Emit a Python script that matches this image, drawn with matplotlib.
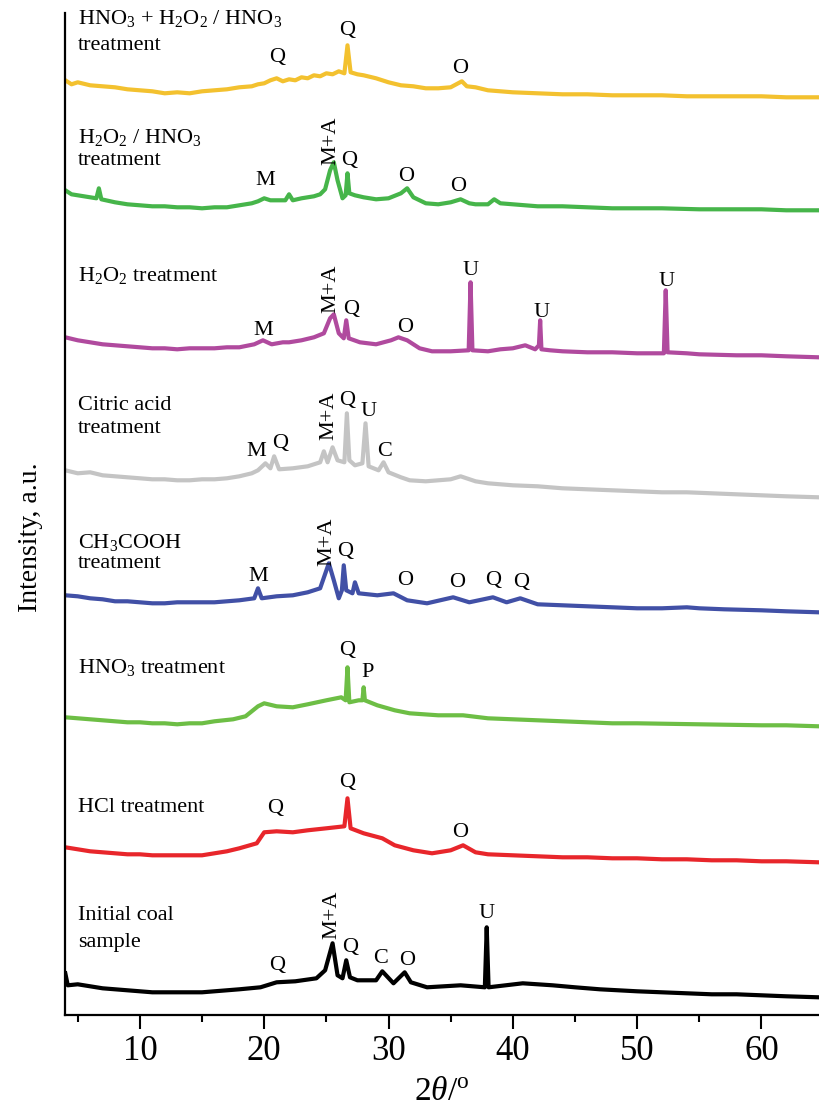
import matplotlib
matplotlib.use("Agg")
import matplotlib.pyplot as plt

plt.rcParams['font.family'] = ['Liberation Serif', 'DejaVu Serif']
plt.rcParams['mathtext.fontset'] = 'custom'
plt.rcParams['mathtext.rm'] = 'Liberation Serif'
plt.rcParams['mathtext.it'] = 'Liberation Serif:italic'
plt.rcParams['mathtext.bf'] = 'Liberation Serif:bold'

# ---------------- data (2theta, intensity a.u. incl. vertical offset) ----------------
x_mix = [4.0, 4.5, 5, 6, 7, 8, 9, 10, 11, 12, 13, 14, 15, 16, 17, 18, 19, 19.5, 20, 20.5, 21, 21.5, 22, 22.5, 23,
         23.5, 24, 24.5, 25, 25.5, 26, 26.45, 26.7, 26.95, 27.5, 28, 29, 30, 31, 32, 33, 34, 35, 35.6, 35.9, 36.3,
         37, 38, 40, 42, 44, 46, 48, 50, 52, 54, 56, 58, 60, 62, 64.6]
y_mix = [935, 931, 933, 930, 929, 928, 926, 925, 924, 922, 923, 922, 924, 925, 926, 928, 929, 931, 932, 935, 937,
         934, 936, 935, 938, 937, 940, 939, 942, 941, 944, 942, 970, 943, 941, 940, 937, 933, 930, 929, 927, 927,
         928, 932, 934, 929, 928, 925, 923, 922, 921, 921, 920, 920, 920, 919, 919, 919, 919, 918, 918]

x_h2o2_hno3 = [4.0, 4.5, 5, 6, 6.5, 6.7, 6.9, 8, 9, 10, 11, 12, 13, 14, 15, 16, 17, 18, 19, 19.5, 20, 20.5, 21,
               21.7, 22, 22.3, 23, 24, 24.5, 24.9, 25.3, 25.6, 25.9, 26.3, 26.55, 26.7, 26.85, 27.3, 28, 29, 30, 31,
               31.5, 32, 33, 34, 35, 35.8, 36.5, 37, 38, 38.5, 39, 40, 42, 44, 46, 48, 50, 52, 55, 58, 60, 62, 64.6]
y_h2o2_hno3 = [825, 821, 820, 818, 817, 827, 816, 813, 811, 810, 809, 809, 808, 808, 807, 808, 808, 810, 812, 814,
               817, 815, 815, 815, 821, 815, 817, 819, 821, 826, 845, 853, 835, 817, 820, 842, 822, 820, 818, 816,
               817, 822, 827, 818, 812, 811, 813, 816, 812, 811, 811, 816, 812, 811, 809, 809, 808, 807, 807, 807,
               806, 806, 806, 805, 805]

x_h2o2 = [4.0, 5, 6, 7, 8, 9, 10, 11, 12, 13, 14, 15, 16, 17, 18, 19.2, 19.9, 20.6, 21.5, 22, 23, 24, 24.8, 25.3,
          25.6, 26.0, 26.4, 26.6, 26.8, 27.7, 29, 30.2, 30.8, 31.5, 32.5, 33.5, 35, 36.45, 36.6, 36.75, 38, 39,
          40, 41, 41.8, 42.1, 42.2, 42.3, 43, 44, 46, 48, 50, 52.15, 52.3, 52.45, 54, 55, 58, 60, 62, 64.6]
y_h2o2 = [678, 675, 673, 671, 670, 669, 668, 667, 667, 666, 667, 667, 667, 668, 668, 671, 675, 671, 673, 673, 675,
          678, 682, 697, 701, 682, 677, 695, 677, 673, 671, 675, 678, 675, 667, 664, 664, 665, 733, 665, 664, 666,
          667, 670, 666, 670, 695, 666, 665, 664, 663, 663, 662, 662, 725, 663, 662, 661, 660, 660, 659, 658]

x_citric = [4.0, 5, 6, 7, 8, 9, 10, 11, 12, 13, 14, 15, 16, 17, 18, 19, 19.5, 20.1, 20.5, 20.8, 21.2, 22.3,
            23.5, 24.5, 24.8, 25.1, 25.5, 25.9, 26.45, 26.65, 26.85, 27.3, 27.9, 28.15, 28.4, 29.2, 29.6, 30, 31,
            31.7, 33, 34, 35, 35.8, 37, 38, 40, 42, 44, 46, 48, 50, 52, 54, 56, 58, 60, 62, 64.6]
y_citric = [545, 542, 543, 540, 539, 538, 537, 536, 536, 535, 535, 536, 536, 537, 539, 542, 545, 552, 547, 559,
            546, 547, 549, 553, 564, 553, 568, 555, 553, 602, 555, 550, 552, 592, 549, 545, 553, 543, 538, 535,
            534, 535, 536, 539, 534, 532, 530, 529, 527, 526, 525, 524, 523, 523, 522, 521, 520, 519, 518]

x_acetic = [4.0, 5, 6, 7, 8, 9, 10, 11, 12, 13, 14, 15, 16, 17, 18, 19.2, 19.5, 19.8, 21, 22.3, 23.5, 24.5, 25.2,
            25.6, 26.0, 26.25, 26.4, 26.6, 27.1, 27.3, 27.6, 29.1, 30.4, 31.5, 33.1, 35.2, 36.5, 38.4, 39.5, 40.6,
            42, 44, 46, 48, 50, 52, 54, 55, 57, 60, 62, 64.6]
y_acetic = [420, 419, 417, 416, 414, 414, 413, 412, 412, 413, 413, 413, 413, 414, 415, 417, 427, 417, 419, 420,
            423, 427, 452, 435, 417, 425, 450, 425, 422, 433, 422, 420, 422, 415, 412, 418, 413, 418, 413, 417,
            411, 410, 409, 408, 407, 407, 408, 407, 406, 405, 404, 403]

x_hno3 = [4.0, 5, 6, 7, 8, 9, 10, 11, 12, 13, 14, 15, 16, 17.5, 18.5, 19.5, 20, 21, 22.3, 23.5, 25, 26.2, 26.55,
          26.7, 26.85, 27.6, 27.9, 28.0, 28.1, 29.1, 30.5, 31.7, 34, 36, 38, 40, 42, 44, 46, 48, 50, 55, 60, 62,
          64.6]
y_hno3 = [298, 297, 296, 295, 294, 293, 293, 292, 292, 291, 292, 292, 294, 296, 299, 309, 312, 309, 308, 311, 315,
          318, 315, 348, 313, 315, 315, 328, 315, 310, 305, 302, 300, 300, 297, 296, 295, 294, 293, 292, 292, 291,
          290, 290, 289]

x_hcl = [4.0, 5, 6, 7, 8, 9, 10, 11, 12, 13, 14, 15, 16, 17, 18, 19.4, 20, 21, 22.3, 23.5, 25, 26.45, 26.7, 26.95,
         28, 29.5, 30.5, 32, 33.5, 35, 36, 37, 38, 40, 42, 44, 46, 48, 50, 52, 54, 56, 58, 60, 62, 64.6]
y_hcl = [168, 166, 164, 163, 162, 161, 161, 160, 160, 160, 160, 160, 162, 164, 167, 172, 183, 184, 183, 185, 187,
         189, 217, 187, 182, 177, 170, 165, 162, 165, 170, 163, 161, 160, 159, 158, 158, 157, 157, 156, 156, 155,
         155, 154, 154, 153]

x_coal = [4.0, 4.2, 5, 6, 7, 8, 9, 10, 11, 12, 13, 14, 15, 16, 17, 18, 19.7, 21, 22.5, 24.2, 24.9, 25.5, 25.9,
          26.3, 26.6, 26.9, 27.5, 29.0, 29.5, 30.4, 31.3, 31.8, 33.1, 35.8, 37.75, 37.9, 38.05, 40.8, 43.2, 45, 47,
          50, 52, 54, 56, 58, 60, 62, 64.6]
y_coal = [42, 30, 31, 29, 27, 26, 25, 24, 23, 23, 23, 23, 23, 24, 25, 26, 28, 33, 34, 37, 45, 72, 40, 37, 55, 38,
          35, 35, 44, 32, 43, 33, 28, 30, 28, 88, 28, 32, 30, 28, 26, 24, 23, 22, 21, 21, 20, 19, 18]

series_x = [x_mix, x_h2o2_hno3, x_h2o2, x_citric, x_acetic, x_hno3, x_hcl, x_coal]
series_y = [y_mix, y_h2o2_hno3, y_h2o2, y_citric, y_acetic, y_hno3, y_hcl, y_coal]
colors = ['#F3C12F', '#46B54A', '#B04A9E', '#C4C4C4', '#4150A6', '#6DBE45', '#E8262B', '#000000']

# sample names: (text, 2theta, intensity)
names = [
    (r'HNO$_3$ + H$_2$O$_2$ / HNO$_3$', 5.0, 997), ('treatment', 5.0, 970),
    (r'H$_2$O$_2$ / HNO$_3$', 5.0, 878), ('treatment', 5.0, 855),
    (r'H$_2$O$_2$ treatment', 5.0, 740),
    ('Citric acid', 5.0, 610), ('treatment', 5.0, 587),
    (r'CH$_3$COOH', 5.0, 473), ('treatment', 5.0, 452),
    (r'HNO$_3$ treatment', 5.0, 348),
    ('HCl treatment', 5.0, 208),
    ('Initial coal', 5.0, 100), ('sample', 5.0, 73),
]

# phase labels: (text, 2theta, intensity, rotation)
phases = [
    ('Q', 21.0, 958, 0), ('Q', 26.7, 985, 0), ('O', 35.8, 947, 0),
    ('M', 20.05, 835, 0), ('M+A', 25.35, 875, 90), ('Q', 26.85, 855, 0), ('O', 31.4, 839, 0), ('O', 35.6, 829, 0),
    ('M', 19.9, 685, 0), ('M+A', 25.35, 727, 90), ('Q', 27.0, 706, 0), ('O', 31.3, 688, 0),
    ('U', 36.6, 745, 0), ('U', 42.3, 703, 0), ('U', 52.4, 734, 0),
    ('M', 19.4, 564, 0), ('Q', 21.3, 572, 0), ('M+A', 25.2, 600, 90), ('Q', 26.7, 615, 0), ('U', 28.4, 604, 0),
    ('C', 29.7, 564, 0),
    ('M', 19.5, 439, 0), ('M+A', 25.05, 474, 90), ('Q', 26.5, 464, 0), ('O', 31.3, 435, 0), ('O', 35.5, 433, 0),
    ('Q', 38.4, 435, 0), ('Q', 40.7, 433, 0),
    ('Q', 26.7, 365, 0), ('P', 28.3, 343, 0),
    ('Q', 20.9, 207, 0), ('Q', 26.7, 233, 0), ('O', 35.8, 183, 0),
    ('Q', 21.0, 50, 0), ('M+A', 25.45, 101, 90), ('Q', 26.95, 68, 0), ('C', 29.4, 57, 0), ('O', 31.5, 55, 0),
    ('U', 37.9, 102, 0),
]

xticks_major = [10, 20, 30, 40, 50, 60]
xticks_minor = [5, 15, 25, 35, 45, 55]

# ---------------- figure ----------------
W, H = 819, 1108
fig = plt.figure(figsize=(W / 100, H / 100), dpi=100)
ax = fig.add_axes([65.3 / W, (H - 1015.3) / H, (W - 65.3) / W, (1015.3 - 13) / H])

for xs, ys, c in zip(series_x, series_y, colors):
    ax.plot(xs, ys, color=c, lw=3.0, solid_joinstyle='round')

for t, x, y in names:
    ax.text(x, y, t, fontsize=16, ha='left', va='center')

for t, x, y, r in phases:
    ax.text(x, y, t, fontsize=16, ha='center', va='center', rotation=r)

ax.set_xlim(4.0, 64.63)
ax.set_ylim(0, 1002.3)
ax.set_xticks(xticks_major)
ax.set_xticks(xticks_minor, minor=True)
ax.set_yticks([])
ax.tick_params(axis='x', which='major', direction='out', length=10, width=1.5, labelsize=25, pad=4)
ax.tick_params(axis='x', which='minor', direction='out', length=5, width=1.5)
for s in ['top', 'right']:
    ax.spines[s].set_visible(False)
for s in ['left', 'bottom']:
    ax.spines[s].set_linewidth(1.6)

ax.set_xlabel(r'$2\theta$/$^{\rm o}$', fontsize=24, labelpad=6)
ax.set_ylabel('Intensity, a.u.', fontsize=20)
ax.yaxis.set_label_coords(-0.029, 0.477)

fig.savefig('out.png', dpi=100)
